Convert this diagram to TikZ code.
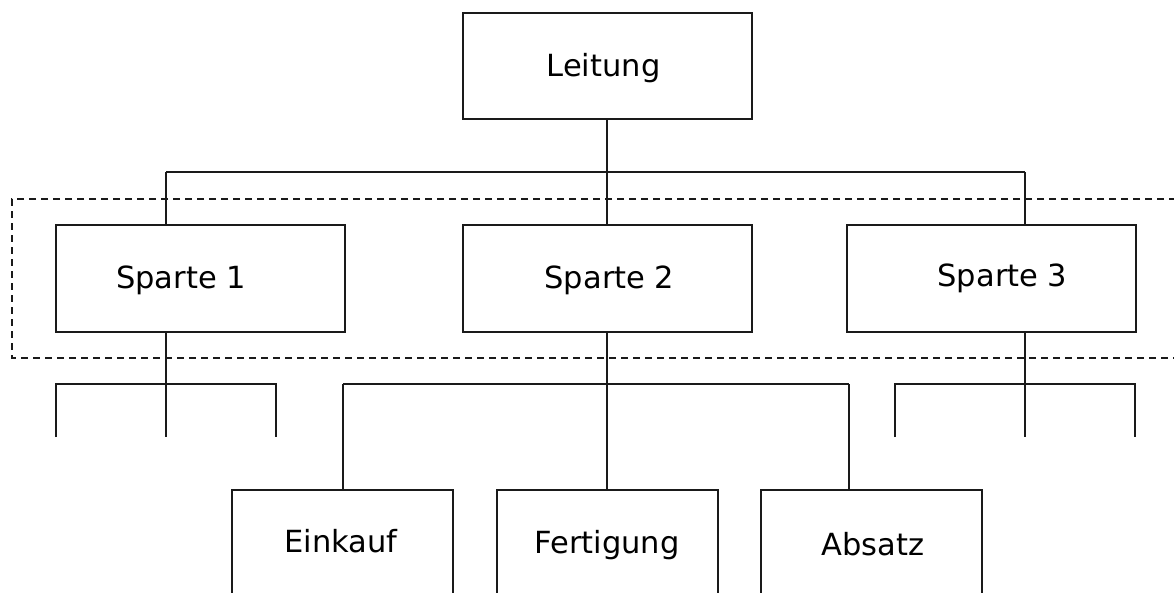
\documentclass[tikz,border=0pt]{standalone}
\usepackage{fontspec}
\setmainfont{DejaVu Sans}
\definecolor{ink}{HTML}{1A1A1A}
\begin{document}
\begin{tikzpicture}[x=1pt,y=-1pt,
  box/.style={rectangle, draw=ink, line width=2pt, fill=white,
              inner sep=0pt, outer sep=0pt},
  topbox/.style={box, minimum width=289pt, minimum height=107pt},
  lowbox/.style={box, minimum width=221pt, minimum height=220pt},
  lbl/.style={anchor=base, inner sep=0pt, text=black,
              font=\fontsize{30.5}{36}\selectfont},
  wire/.style={draw=ink, line width=2pt},
  group/.style={draw=ink, line width=2pt, dash pattern=on 7pt off 5pt}]
\useasboundingbox (0,0) rectangle (1174,592);
\clip (0,0) rectangle (1174,592);

% dashed frame around the divisions (open to the right)
\draw[group] (1200,199) -- (12,199) -- (12,358) -- (1200,358);

% junction points
\coordinate (jl) at (607,172);
\coordinate (a1) at (166,172);
\coordinate (a3) at (1025,172);
\coordinate (b1) at (166,384);
\coordinate (b2) at (607,384);
\coordinate (b3) at (1025,384);
\coordinate (e1) at (343,384);
\coordinate (e3) at (849,384);
% open branch ends below divisions 1 and 3
\coordinate (u1l) at (56,384);   \coordinate (u1lend) at (56,437);
\coordinate (u1m) at (166,437);
\coordinate (u1r) at (276,384);  \coordinate (u1rend) at (276,437);
\coordinate (u3l) at (895,384);  \coordinate (u3lend) at (895,437);
\coordinate (u3m) at (1025,437);
\coordinate (u3r) at (1135,384); \coordinate (u3rend) at (1135,437);

% boxes
\node[topbox, minimum height=106pt] (lei) at (607,66) {};
\node[topbox] (s1) at (200.5,278.5) {};
\node[topbox] (s2) at (607,278.5) {};
\node[topbox] (s3) at (991.5,278.5) {};
\node[lowbox] (ein) at (342.5,600) {};
\node[lowbox] (fer) at (607,600) {};
\node[lowbox] (abs) at (871.5,600) {};

% connectors
\draw[wire] (lei.south) -- (jl);
\draw[wire] (a1) -- (a3);
\draw[wire] (a1) -- (s1.north -| a1);
\draw[wire] (jl) -- (s2.north);
\draw[wire] (a3) -- (s3.north -| a3);

\draw[wire] (s1.south -| b1) -- (u1m);
\draw[wire] (u1lend) -- (u1l) -- (u1r) -- (u1rend);

\draw[wire] (s2.south) -- (fer.north);
\draw[wire] (e1) -- (e3);
\draw[wire] (e1) -- (ein.north -| e1);
\draw[wire] (e3) -- (abs.north -| e3);

\draw[wire] (s3.south -| b3) -- (u3m);
\draw[wire] (u3lend) -- (u3l) -- (u3r) -- (u3rend);

% labels
\node[lbl] (tlei) at (603.5,76) {Leitung};
\node[lbl] (ts1) at (181,288) {Sparte 1};
\node[lbl] (ts2) at (609.5,288) {Sparte 2};
\node[lbl] (ts3) at (1002.5,286) {Sparte 3};
\node[lbl] (tein) at (341,552) {Einkauf};
\node[lbl] (tfer) at (607,553) {Fertigung};
\node[lbl] (tabs) at (873,555) {Absatz};
\end{tikzpicture}
\end{document}
